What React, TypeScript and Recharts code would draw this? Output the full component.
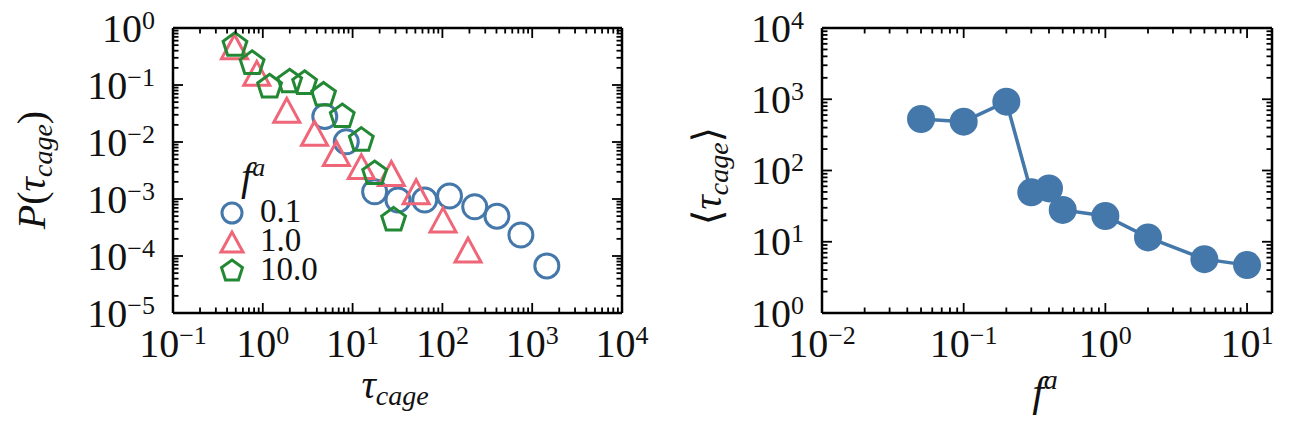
import { ScatterChart, Scatter, XAxis, YAxis, Legend, Label } from 'recharts';

// left panel: cage-time distributions for three activities
const faLabels = ['0.1', '1.0', '10.0'];

const tauLow = [4.9, 8.5, 17.6, 32, 63.5, 120, 229, 405, 748, 1455];
const pLow = [0.028, 0.0101, 0.00134, 0.00096, 0.00096, 0.00113, 0.00073, 0.0005, 0.000234, 0.000067];

const tauMid = [0.484, 0.857, 1.85, 3.77, 6.6, 12.5, 27, 51, 101.6, 193];
const pMid = [0.47, 0.16, 0.036, 0.0142, 0.0063, 0.0037, 0.0028, 0.00134, 0.00043, 0.000127];

const tauHigh = [0.49, 0.76, 1.19, 1.99, 2.92, 4.75, 7.67, 12.5, 17.6, 28.6];
const pHigh = [0.5, 0.24, 0.093, 0.114, 0.107, 0.067, 0.028, 0.0108, 0.0028, 0.00043];

// right panel: mean cage time vs activity
const faValues = [0.05, 0.1, 0.2, 0.3, 0.4, 0.5, 1, 2, 5, 10];
const tauMean = [528, 484, 925, 49.4, 56, 28, 23, 11.5, 5.7, 4.7];

// axis decades
const leftXMajor = [0.1, 1, 10, 100, 1000, 10000];
const leftYMajor = [1e-5, 1e-4, 1e-3, 1e-2, 1e-1, 1];
const rightXMajor = [0.01, 0.1, 1, 10];
const rightYMajor = [1, 10, 100, 1000, 10000];

const BLUE = '#4477AA';
const RED = '#EE6677';
const GREEN = '#228833';
const FONT = "'Liberation Serif', 'DejaVu Serif', serif";
const INK = '#111';

const MAJOR_LEN = 10;
const MINOR_LEN = 5.5;
const TICK_W = 1.8;
const FRAME_W = 2.5;
const TICK_FS = 40;
const SUP_FS = 26;

const zip = (xs: number[], ys: number[]) => xs.map((x, i) => ({ x, y: ys[i] }));

const withMinor = (majors: number[], max: number) => {
  const out: number[] = [];
  majors.forEach((m) => {
    out.push(m);
    for (let k = 2; k <= 9; k++) {
      const v = +(m * k).toPrecision(6);
      if (v <= max) out.push(v);
    }
  });
  return out;
};

const isMajor = (v: number, majors: number[]) => majors.some((m) => Math.abs(m - v) / m < 1e-6);

const Pow = ({ x, y, v, anchor }: any) => {
  const e = Math.round(Math.log10(v));
  return (
    <text x={x} y={y} textAnchor={anchor} fontFamily={FONT} fontSize={TICK_FS} fill={INK}>
      10
      <tspan dy={-13} fontSize={SUP_FS}>
        {e < 0 ? `\u2212${-e}` : `${e}`}
      </tspan>
    </text>
  );
};

const makeTick = (side: string, majors: number[], labels: boolean) => (props: any) => {
  const { x, y, payload } = props;
  const v = payload.value;
  const major = isMajor(v, majors);
  const len = major ? MAJOR_LEN : MINOR_LEN;
  let line;
  if (side === 'bottom') line = <line x1={x} x2={x} y1={y} y2={y - len} />;
  else if (side === 'top') line = <line x1={x} x2={x} y1={y} y2={y + len} />;
  else if (side === 'left') line = <line x1={x} x2={x + len} y1={y} y2={y} />;
  else line = <line x1={x} x2={x - len} y1={y} y2={y} />;
  return (
    <g>
      <g stroke="#000" strokeWidth={TICK_W}>{line}</g>
      {labels && major && side === 'bottom' && <Pow x={x} y={y + 44} v={v} anchor="middle" />}
      {labels && major && side === 'left' && <Pow x={x - 18} y={y + 13.5} v={v} anchor="end" />}
    </g>
  );
};

const ring = (color: string, r: number) => (p: any) => (
  <circle cx={p.cx} cy={p.cy} r={r} fill="none" stroke={color} strokeWidth={3} />
);

const triangle = (color: string, w: number, h: number) => (p: any) => (
  <polygon
    points={`${p.cx},${p.cy - h} ${p.cx - w},${p.cy + h} ${p.cx + w},${p.cy + h}`}
    fill="none"
    stroke={color}
    strokeWidth={3}
  />
);

const pentagon = (color: string, r: number) => (p: any) => {
  const pts = [0, 1, 2, 3, 4]
    .map((i) => {
      const a = ((-90 + 72 * i) * Math.PI) / 180;
      return `${p.cx + r * Math.cos(a)},${p.cy + r * Math.sin(a)}`;
    })
    .join(' ');
  return <polygon points={pts} fill="none" stroke={color} strokeWidth={3} />;
};

const dot = (color: string, r: number) => (p: any) => <circle cx={p.cx} cy={p.cy} r={r} fill={color} />;

const legendShapes = [ring(BLUE, 10), triangle(RED, 11, 10), pentagon(GREEN, 11)];

const LegendBox = () => (
  <svg width={140} height={150} style={{ display: 'block', overflow: 'visible' }}>
    <text x={36} y={40} fontFamily={FONT} fontSize={40} fontStyle="italic" fill={INK}>
      f
      <tspan dy={-14} fontSize={26}>
        a
      </tspan>
    </text>
    {faLabels.map((lab, i) => (
      <g key={lab}>
        {legendShapes[i]({ cx: 27, cy: 63 + 29 * i })}
        <text x={55} y={72 + 29 * i} fontFamily={FONT} fontSize={33} fill={INK}>
          {lab}
        </text>
      </g>
    ))}
  </svg>
);

const LeftTitles = () => (
  <g fontFamily={FONT} fill={INK}>
    <text x={395} y={398} textAnchor="middle" fontSize={40}>
      <tspan fontStyle="italic">τ</tspan>
      <tspan fontStyle="italic" fontSize={28} dy={7}>
        cage
      </tspan>
    </text>
    <text x={45} y={170} textAnchor="middle" fontSize={40} transform="rotate(-90 45 170)">
      <tspan fontStyle="italic">P</tspan>
      <tspan>(</tspan>
      <tspan fontStyle="italic">τ</tspan>
      <tspan fontStyle="italic" fontSize={28} dy={7}>
        cage
      </tspan>
      <tspan dy={-7}>)</tspan>
    </text>
  </g>
);

// right chart is shifted 660px on the page
const RX = 660;

const RightTitles = () => (
  <g fontFamily={FONT} fill={INK}>
    <text x={1045 - RX} y={406} textAnchor="middle" fontSize={42}>
      <tspan fontStyle="italic">f</tspan>
      <tspan fontStyle="italic" fontSize={28} dy={-17}>
        a
      </tspan>
    </text>
    <text x={721 - RX} y={176} textAnchor="middle" fontSize={40} transform={`rotate(-90 ${721 - RX} 176)`}>
      <tspan>⟨</tspan>
      <tspan fontStyle="italic">τ</tspan>
      <tspan fontStyle="italic" fontSize={28} dy={7}>
        cage
      </tspan>
      <tspan dy={-7}>⟩</tspan>
    </text>
  </g>
);

const axisLine = { stroke: '#000', strokeWidth: FRAME_W };

export default function App() {
  const lx = withMinor(leftXMajor, 10000);
  const ly = withMinor(leftYMajor, 1);
  const rx = withMinor(rightXMajor, 15);
  const ry = withMinor(rightYMajor, 10000);

  return (
    <div style={{ position: 'absolute', left: 0, top: 0, width: 1290, height: 433, background: '#fff' }}>
      <div style={{ position: 'absolute', left: 0, top: 0 }}>
        <ScatterChart width={660} height={433} margin={{ top: 18, right: 28, bottom: 60, left: 73 }}>
          <XAxis xAxisId="b" type="number" dataKey="x" scale="log" domain={[0.1, 10000]} allowDataOverflow
            ticks={lx} interval={0} tickSize={0} tickMargin={0} tickLine={false} axisLine={axisLine}
            height={60} tick={makeTick('bottom', leftXMajor, true)}>
            <Label content={() => <LeftTitles />} />
          </XAxis>
          <XAxis xAxisId="t" orientation="top" type="number" dataKey="x" scale="log" domain={[0.1, 10000]} allowDataOverflow
            ticks={lx} interval={0} tickSize={0} tickMargin={0} tickLine={false} axisLine={axisLine}
            height={10} tick={makeTick('top', leftXMajor, false)} />
          <YAxis yAxisId="l" type="number" dataKey="y" scale="log" domain={[1e-5, 1]} allowDataOverflow
            ticks={ly} interval={0} tickSize={0} tickMargin={0} tickLine={false} axisLine={axisLine}
            width={100} tick={makeTick('left', leftYMajor, true)} />
          <YAxis yAxisId="r" orientation="right" type="number" dataKey="y" scale="log" domain={[1e-5, 1]} allowDataOverflow
            ticks={ly} interval={0} tickSize={0} tickMargin={0} tickLine={false} axisLine={axisLine}
            width={10} tick={makeTick('right', leftYMajor, false)} />
          <Scatter name={faLabels[0]} xAxisId="b" yAxisId="l" data={zip(tauLow, pLow)} fill={BLUE}
            shape={ring(BLUE, 12)} isAnimationActive={false} />
          <Scatter name={faLabels[1]} xAxisId="b" yAxisId="l" data={zip(tauMid, pMid)} fill={RED}
            shape={triangle(RED, 13, 12)} isAnimationActive={false} />
          <Scatter name={faLabels[2]} xAxisId="b" yAxisId="l" data={zip(tauHigh, pHigh)} fill={GREEN}
            shape={pentagon(GREEN, 12.5)} isAnimationActive={false} />
          <Legend layout="vertical" align="center" verticalAlign="middle" content={() => <LegendBox />}
            wrapperStyle={{ left: 205, top: 150, width: 140, height: 150 }} />
        </ScatterChart>
      </div>
      <div style={{ position: 'absolute', left: RX, top: 0 }}>
        <ScatterChart width={630} height={433} margin={{ top: 18, right: 8, bottom: 60, left: 62 }}>
          <XAxis xAxisId="b" type="number" dataKey="x" scale="log" domain={[0.01, 15]} allowDataOverflow
            ticks={rx} interval={0} tickSize={0} tickMargin={0} tickLine={false} axisLine={axisLine}
            height={60} tick={makeTick('bottom', rightXMajor, true)}>
            <Label content={() => <RightTitles />} />
          </XAxis>
          <XAxis xAxisId="t" orientation="top" type="number" dataKey="x" scale="log" domain={[0.01, 15]} allowDataOverflow
            ticks={rx} interval={0} tickSize={0} tickMargin={0} tickLine={false} axisLine={axisLine}
            height={10} tick={makeTick('top', rightXMajor, false)} />
          <YAxis yAxisId="l" type="number" dataKey="y" scale="log" domain={[1, 10000]} allowDataOverflow
            ticks={ry} interval={0} tickSize={0} tickMargin={0} tickLine={false} axisLine={axisLine}
            width={100} tick={makeTick('left', rightYMajor, true)} />
          <YAxis yAxisId="r" orientation="right" type="number" dataKey="y" scale="log" domain={[1, 10000]} allowDataOverflow
            ticks={ry} interval={0} tickSize={0} tickMargin={0} tickLine={false} axisLine={axisLine}
            width={10} tick={makeTick('right', rightYMajor, false)} />
          <Scatter xAxisId="b" yAxisId="l" data={zip(faValues, tauMean)} fill={BLUE}
            line={{ stroke: BLUE, strokeWidth: 3.5 }} lineType="joint"
            shape={dot(BLUE, 14)} isAnimationActive={false} />
        </ScatterChart>
      </div>
    </div>
  );
}
